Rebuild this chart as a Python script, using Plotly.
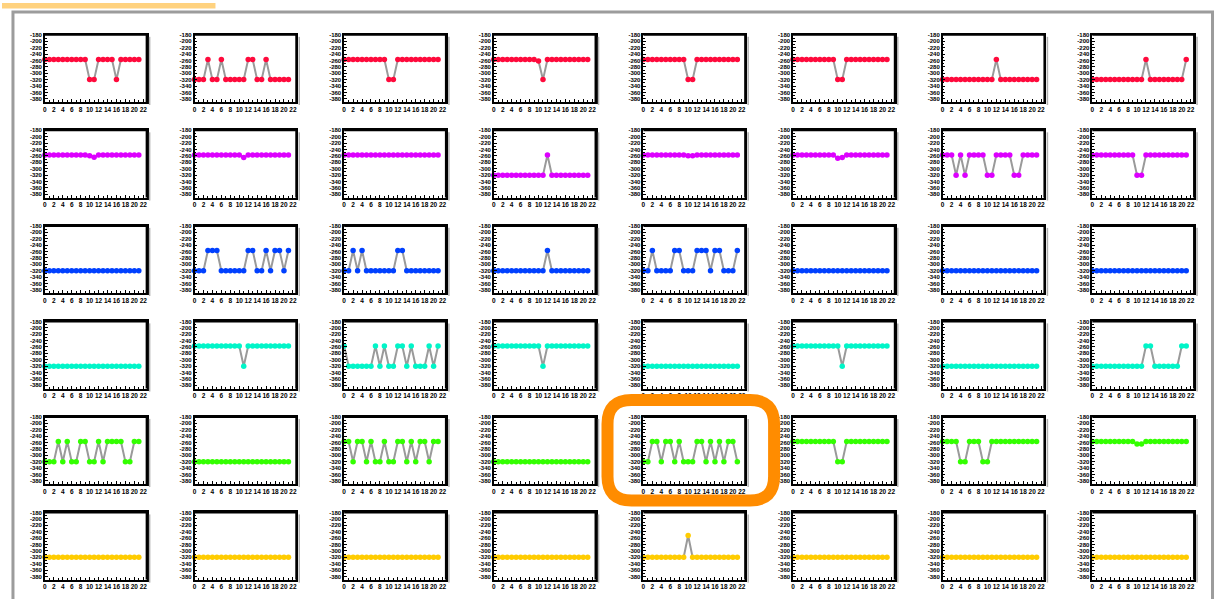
import plotly.graph_objects as go

# channel index along the x axis
x_vals = list(range(22))

# one row of eight panels per colour
red_series = [
    [-257, -257, -257, -257, -257, -257, -257, -257, -257, -257, -320, -320, -257, -257, -257, -257, -320, -257, -257, -257, -257, -257],
    [-320, -320, -320, -257, -320, -320, -257, -320, -320, -320, -320, -320, -257, -257, -320, -320, -257, -320, -320, -320, -320, -320],
    [-257, -257, -257, -257, -257, -257, -257, -257, -257, -257, -320, -320, -257, -257, -257, -257, -257, -257, -257, -257, -257, -257],
    [-257, -257, -257, -257, -257, -257, -257, -257, -257, -257, -262, -320, -257, -257, -257, -257, -257, -257, -257, -257, -257, -257],
    [-257, -257, -257, -257, -257, -257, -257, -257, -257, -257, -320, -320, -257, -257, -257, -257, -257, -257, -257, -257, -257, -257],
    [-257, -257, -257, -257, -257, -257, -257, -257, -257, -257, -320, -320, -257, -257, -257, -257, -257, -257, -257, -257, -257, -257],
    [-320, -320, -320, -320, -320, -320, -320, -320, -320, -320, -320, -320, -257, -320, -320, -320, -320, -320, -320, -320, -320, -320],
    [-320, -320, -320, -320, -320, -320, -320, -320, -320, -320, -320, -320, -257, -320, -320, -320, -320, -320, -320, -320, -320, -257],
]

purple_series = [
    [-257, -257, -257, -257, -257, -257, -257, -257, -257, -257, -259, -264, -257, -257, -257, -257, -257, -257, -257, -257, -257, -257],
    [-257, -257, -257, -257, -257, -257, -257, -257, -257, -257, -257, -265, -257, -257, -257, -257, -257, -257, -257, -257, -257, -257],
    [-257, -257, -257, -257, -257, -257, -257, -257, -257, -257, -257, -257, -257, -257, -257, -257, -257, -257, -257, -257, -257, -257],
    [-320, -320, -320, -320, -320, -320, -320, -320, -320, -320, -320, -320, -257, -320, -320, -320, -320, -320, -320, -320, -320, -320],
    [-257, -257, -257, -257, -257, -257, -257, -257, -257, -257, -259, -259, -257, -257, -257, -257, -257, -257, -257, -257, -257, -257],
    [-257, -257, -257, -257, -257, -257, -257, -257, -257, -257, -267, -265, -257, -257, -257, -257, -257, -257, -257, -257, -257, -257],
    [-257, -257, -257, -320, -257, -320, -257, -257, -257, -257, -320, -320, -257, -257, -257, -257, -320, -320, -257, -257, -257, -257],
    [-257, -257, -257, -257, -257, -257, -257, -257, -257, -257, -320, -320, -257, -257, -257, -257, -257, -257, -257, -257, -257, -257],
]

blue_series = [
    [-320, -320, -320, -320, -320, -320, -320, -320, -320, -320, -320, -320, -320, -320, -320, -320, -320, -320, -320, -320, -320, -320],
    [-320, -320, -320, -257, -257, -257, -320, -320, -320, -320, -320, -320, -257, -257, -320, -320, -257, -320, -257, -257, -320, -257],
    [-320, -320, -257, -320, -257, -320, -320, -320, -320, -320, -320, -320, -257, -257, -320, -320, -320, -320, -320, -320, -320, -320],
    [-320, -320, -320, -320, -320, -320, -320, -320, -320, -320, -320, -320, -257, -320, -320, -320, -320, -320, -320, -320, -320, -320],
    [-320, -320, -257, -320, -320, -320, -320, -257, -257, -320, -320, -320, -257, -257, -257, -320, -257, -257, -320, -320, -320, -257],
    [-320, -320, -320, -320, -320, -320, -320, -320, -320, -320, -320, -320, -320, -320, -320, -320, -320, -320, -320, -320, -320, -320],
    [-320, -320, -320, -320, -320, -320, -320, -320, -320, -320, -320, -320, -320, -320, -320, -320, -320, -320, -320, -320, -320, -320],
    [-320, -320, -320, -320, -320, -320, -320, -320, -320, -320, -320, -320, -320, -320, -320, -320, -320, -320, -320, -320, -320, -320],
]

cyan_series = [
    [-320, -320, -320, -320, -320, -320, -320, -320, -320, -320, -320, -320, -320, -320, -320, -320, -320, -320, -320, -320, -320, -320],
    [-257, -257, -257, -257, -257, -257, -257, -257, -257, -257, -257, -320, -257, -257, -257, -257, -257, -257, -257, -257, -257, -257],
    [-257, -320, -320, -320, -320, -320, -320, -257, -320, -257, -320, -320, -257, -257, -320, -257, -320, -320, -320, -257, -320, -257],
    [-257, -257, -257, -257, -257, -257, -257, -257, -257, -257, -257, -320, -257, -257, -257, -257, -257, -257, -257, -257, -257, -257],
    [-320, -320, -320, -320, -320, -320, -320, -320, -320, -320, -320, -320, -320, -320, -320, -320, -320, -320, -320, -320, -320, -320],
    [-257, -257, -257, -257, -257, -257, -257, -257, -257, -257, -257, -320, -257, -257, -257, -257, -257, -257, -257, -257, -257, -257],
    [-320, -320, -320, -320, -320, -320, -320, -320, -320, -320, -320, -320, -320, -320, -320, -320, -320, -320, -320, -320, -320, -320],
    [-320, -320, -320, -320, -320, -320, -320, -320, -320, -320, -320, -320, -257, -257, -320, -320, -320, -320, -320, -320, -257, -257],
]

green_series = [
    [-320, -320, -320, -257, -320, -257, -320, -320, -257, -257, -320, -320, -257, -320, -257, -257, -257, -257, -320, -320, -257, -257],
    [-320, -320, -320, -320, -320, -320, -320, -320, -320, -320, -320, -320, -320, -320, -320, -320, -320, -320, -320, -320, -320, -320],
    [-257, -257, -320, -257, -257, -320, -257, -320, -320, -257, -320, -320, -257, -257, -320, -257, -320, -257, -257, -320, -257, -257],
    [-320, -320, -320, -320, -320, -320, -320, -320, -320, -320, -320, -320, -320, -320, -320, -320, -320, -320, -320, -320, -320, -320],
    [-320, -320, -257, -257, -320, -257, -257, -320, -257, -320, -320, -320, -257, -257, -320, -257, -320, -257, -320, -257, -257, -320],
    [-257, -257, -257, -257, -257, -257, -257, -257, -257, -257, -320, -320, -257, -257, -257, -257, -257, -257, -257, -257, -257, -257],
    [-257, -257, -257, -257, -320, -320, -257, -257, -257, -320, -320, -257, -257, -257, -257, -257, -257, -257, -257, -257, -257, -257],
    [-257, -257, -257, -257, -257, -257, -257, -257, -257, -257, -265, -265, -257, -257, -257, -257, -257, -257, -257, -257, -257, -257],
]

yellow_series = [
    [-320, -320, -320, -320, -320, -320, -320, -320, -320, -320, -320, -320, -320, -320, -320, -320, -320, -320, -320, -320, -320, -320],
    [-320, -320, -320, -320, -320, -320, -320, -320, -320, -320, -320, -320, -320, -320, -320, -320, -320, -320, -320, -320, -320, -320],
    [-320, -320, -320, -320, -320, -320, -320, -320, -320, -320, -320, -320, -320, -320, -320, -320, -320, -320, -320, -320, -320, -320],
    [-320, -320, -320, -320, -320, -320, -320, -320, -320, -320, -320, -320, -320, -320, -320, -320, -320, -320, -320, -320, -320, -320],
    [-320, -320, -320, -320, -320, -320, -320, -320, -320, -320, -252, -320, -320, -320, -320, -320, -320, -320, -320, -320, -320, -320],
    [-320, -320, -320, -320, -320, -320, -320, -320, -320, -320, -320, -320, -320, -320, -320, -320, -320, -320, -320, -320, -320, -320],
    [-320, -320, -320, -320, -320, -320, -320, -320, -320, -320, -320, -320, -320, -320, -320, -320, -320, -320, -320, -320, -320, -320],
    [-320, -320, -320, -320, -320, -320, -320, -320, -320, -320, -320, -320, -320, -320, -320, -320, -320, -320, -320, -320, -320, -320],
]

rows = [red_series, purple_series, blue_series, cyan_series, green_series, yellow_series]
row_colors = ["#ff0a3c", "#dd00ff", "#0040ff", "#00f5c8", "#33ff00", "#ffcc00"]

y_ticks = [-180, -200, -220, -240, -260, -280, -300, -320, -340, -360, -380]
x_ticks = [0, 2, 4, 6, 8, 10, 12, 14, 16, 18, 20, 22]

W, H_PX = 1217, 599


def px(xp):
    return xp / W


def py(yp):
    return 1 - yp / H_PX


# panel geometry in pixels
box_left0, box_top0 = 43, 32
col_step, row_step = 150, 96
box_w, box_h = 102, 67.5

fig = go.Figure()
layout_axes = {}
shapes = []

tick_font_x = dict(size=6.5, color="black", family="Liberation Sans", weight="bold")
tick_font_y = dict(size=6, color="black", family="Liberation Sans", weight="bold")

n = 0
for r, series_row in enumerate(rows):
    for c, yv in enumerate(series_row):
        n += 1
        xa = "x" if n == 1 else f"x{n}"
        ya = "y" if n == 1 else f"y{n}"
        fig.add_trace(go.Scatter(
            x=x_vals, y=yv, xaxis=xa, yaxis=ya,
            mode="lines+markers",
            line=dict(color="#9a9a9a", width=2),
            marker=dict(color=row_colors[r], size=5.5),
            cliponaxis=False, showlegend=False, hoverinfo="x+y",
        ))
        left = box_left0 + c * col_step
        top = box_top0 + r * row_step
        xdom = [px(left), px(left + box_w)]
        ydom = [py(top + box_h), py(top)]
        key = "" if n == 1 else str(n)
        layout_axes[f"xaxis{key}"] = dict(
            domain=xdom, anchor=ya, range=[0, 22.75],
            tickmode="array", tickvals=x_ticks, ticktext=[str(v) for v in x_ticks],
            ticks="inside", ticklen=3, tickcolor="black", tickangle=0,
            minor=dict(ticks="inside", ticklen=2, dtick=1, tickcolor="black"),
            showline=True, linecolor="black", linewidth=1.5, mirror=True,
            showgrid=False, zeroline=False,
            tickfont=tick_font_x,
            fixedrange=True,
        )
        layout_axes[f"yaxis{key}"] = dict(
            domain=ydom, anchor=xa, range=[-390, -180],
            tickmode="array", tickvals=y_ticks, ticktext=[str(v) for v in y_ticks],
            ticks="inside", ticklen=3, tickcolor="black",
            minor=dict(ticks="inside", ticklen=2, dtick=10, tickcolor="black"),
            showline=True, linecolor="black", linewidth=1.5, mirror=True,
            showgrid=False, zeroline=False,
            tickfont=tick_font_y,
            fixedrange=True,
        )
        # heavier top and right frame edges with a soft shadow
        shapes.append(dict(type="line", xref="paper", yref="paper",
                           x0=px(left), x1=px(left + box_w + 1),
                           y0=py(top), y1=py(top),
                           line=dict(color="black", width=2)))
        shapes.append(dict(type="line", xref="paper", yref="paper",
                           x0=px(left + box_w), x1=px(left + box_w),
                           y0=py(top), y1=py(top + box_h),
                           line=dict(color="black", width=2)))
        shapes.append(dict(type="line", xref="paper", yref="paper",
                           x0=px(left + box_w + 3), x1=px(left + box_w + 3),
                           y0=py(top + 2), y1=py(top + box_h + 3),
                           line=dict(color="#b0b0b0", width=1.5)))

# canvas frame
shapes.append(dict(type="rect", xref="paper", yref="paper",
                   x0=px(11), x1=px(1213.5), y0=py(9), y1=py(640),
                   line=dict(color="#9c9c9c", width=3), layer="below"))
# tab strip at the top left
shapes.append(dict(type="rect", xref="paper", yref="paper",
                   x0=px(0), x1=px(214), y0=py(0), y1=py(5.5),
                   line=dict(width=0), fillcolor="#ffd27f", layer="below"))

# rounded highlight around one panel
hx0, hy0, hx1, hy1, rad = 607, 399, 774, 500, 24
path = (
    f"M {px(hx0 + rad)} {py(hy0)} "
    f"L {px(hx1 - rad)} {py(hy0)} "
    f"Q {px(hx1)} {py(hy0)} {px(hx1)} {py(hy0 + rad)} "
    f"L {px(hx1)} {py(hy1 - rad)} "
    f"Q {px(hx1)} {py(hy1)} {px(hx1 - rad)} {py(hy1)} "
    f"L {px(hx0 + rad)} {py(hy1)} "
    f"Q {px(hx0)} {py(hy1)} {px(hx0)} {py(hy1 - rad)} "
    f"L {px(hx0)} {py(hy0 + rad)} "
    f"Q {px(hx0)} {py(hy0)} {px(hx0 + rad)} {py(hy0)} Z"
)
shapes.append(dict(type="path", xref="paper", yref="paper", path=path,
                   line=dict(color="#ff8c00", width=12), layer="above"))

fig.update_layout(
    width=W, height=H_PX, autosize=False,
    margin=dict(l=0, r=0, t=0, b=0),
    paper_bgcolor="white", plot_bgcolor="white",
    shapes=shapes,
    **layout_axes,
)

fig.write_html("out.html", config={"displayModeBar": False})
